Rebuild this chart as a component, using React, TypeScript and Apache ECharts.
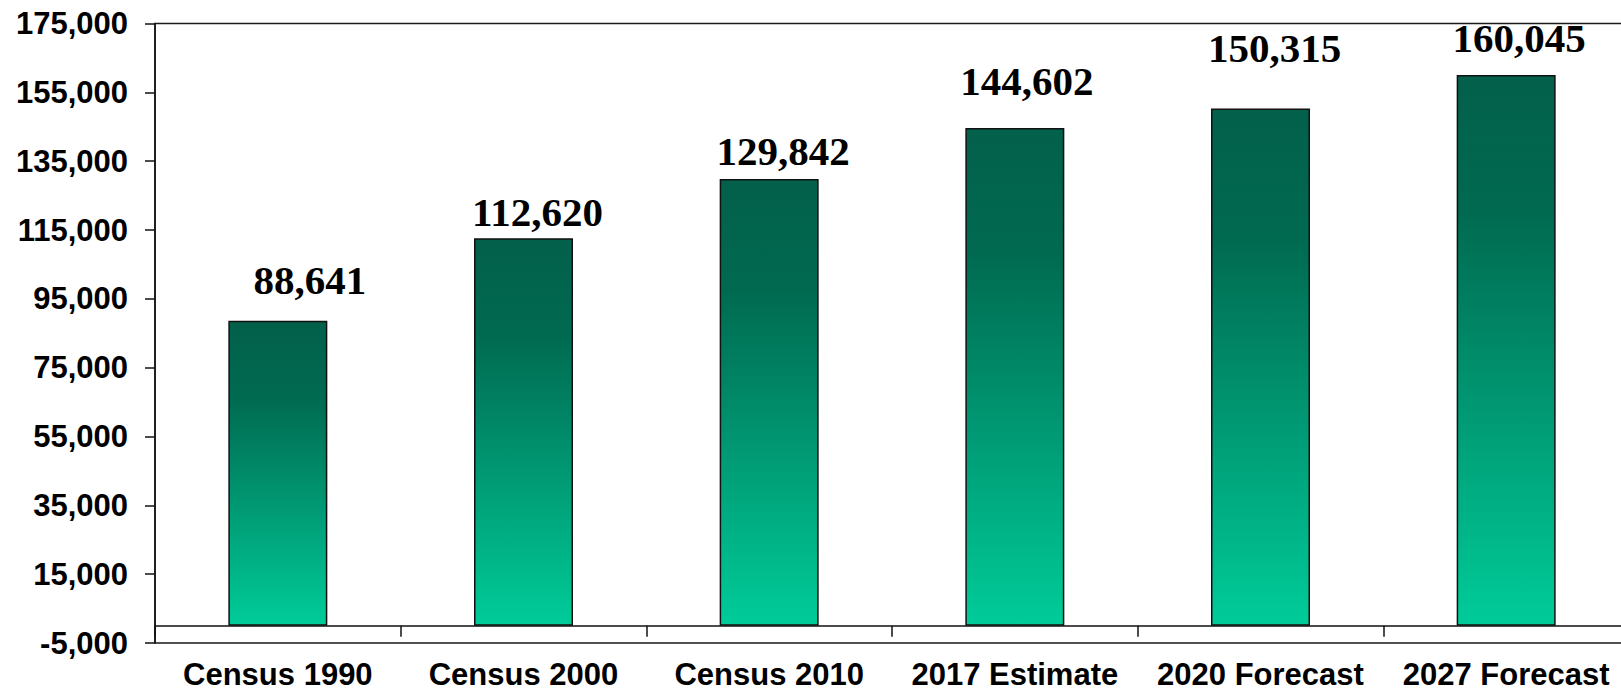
import React, { useEffect, useRef } from "react";
import * as echarts from "echarts";

const categories = [
  "Census 1990",
  "Census 2000",
  "Census 2010",
  "2017 Estimate",
  "2020 Forecast",
  "2027 Forecast",
];
const population = [88641, 112620, 129842, 144602, 150315, 160045];
const yTickValues = [-5000, 15000, 35000, 55000, 75000, 95000, 115000, 135000, 155000, 175000];

// label nudges (style only)
const labelNudges: [number, number][] = [
  [32, -20],
  [14, -6],
  [14, -7],
  [12, -27],
  [14, -40],
  [13, -16],
];

const fmt = (v: number) => v.toLocaleString("en-US");

export default function App() {
  const ref = useRef<HTMLDivElement>(null);
  useEffect(() => {
    if (!ref.current) return;
    const chart = echarts.init(ref.current, null, { renderer: "svg" });
    const barColor = new echarts.graphic.LinearGradient(0, 0, 0, 1, [
      { offset: 0, color: "#03604A" },
      { offset: 0.25, color: "#006A50" },
      { offset: 1, color: "#00CC99" },
    ]);
    chart.setOption({
      animation: false,
      backgroundColor: "#ffffff",
      grid: {
        left: 155,
        top: 23.5,
        right: -8,
        bottom: 45,
        show: true,
        borderColor: "#1a1a1a",
        borderWidth: 1.5,
        containLabel: false,
        outerBoundsMode: "none",
      },
      xAxis: {
        type: "category",
        data: categories,
        axisLine: { onZero: true, lineStyle: { color: "#111", width: 1.5 } },
        axisTick: { show: true, length: 11, inside: false, lineStyle: { color: "#111", width: 1.5 } },
        axisLabel: {
          interval: 0,
          margin: 16,
          hideOverlap: false,
          fontFamily: "'Liberation Sans', Arial, sans-serif",
          fontWeight: "bold",
          fontSize: 31,
          color: "#000",
        },
        splitLine: { show: false },
      },
      yAxis: {
        type: "value",
        min: -5000,
        max: 175000,
        axisLine: { show: true, lineStyle: { color: "#111", width: 1.5 } },
        axisTick: {
          show: true,
          length: 10,
          customValues: yTickValues,
          lineStyle: { color: "#111", width: 1.5 },
        },
        axisLabel: {
          customValues: yTickValues,
          margin: 27,
          formatter: (v: number) => fmt(v),
          fontFamily: "'Liberation Sans', Arial, sans-serif",
          fontWeight: "bold",
          fontSize: 31,
          color: "#000",
        },
        splitLine: { show: false },
      },
      series: [
        {
          type: "bar",
          barWidth: 99,
          data: population.map((v, i) => ({
            value: v,
            label: { offset: labelNudges[i] },
          })),
          itemStyle: { color: barColor, borderColor: "#111", borderWidth: 1.5 },
          label: {
            show: true,
            position: "top",
            distance: 0,
            formatter: (p: any) => fmt(p.value),
            fontFamily: "'Liberation Serif', 'Times New Roman', serif",
            fontWeight: "bold",
            fontSize: 41,
            color: "#000",
          },
        },
      ],
    });
    return () => chart.dispose();
  }, []);
  return (
    <div
      ref={ref}
      style={{ position: "absolute", left: 0, top: 0, width: 1621, height: 688 }}
    />
  );
}
